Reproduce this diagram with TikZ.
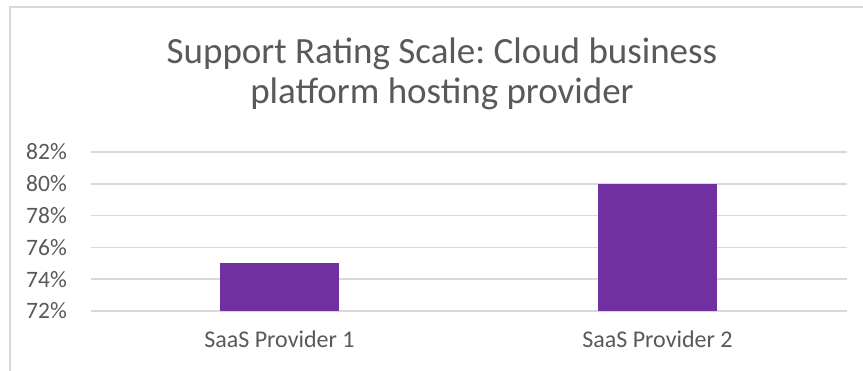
\documentclass[tikz,border=0pt]{standalone}
\usepackage{fontspec}
\setmainfont{Carlito}
\frenchspacing
\definecolor{txtgray}{HTML}{595959}
\definecolor{gridgray}{HTML}{D9D9D9}
\definecolor{barpurple}{HTML}{7030A0}
\tikzset{
  gridline/.style={draw=gridgray, line width=1.6pt},
  framebox/.style={draw=gridgray, line width=1.5pt},
  ylab/.style={anchor=east, text=txtgray, font=\fontsize{23.5}{26}\selectfont, inner sep=0pt},
  xlab/.style={anchor=base, text=txtgray, font=\fontsize{24}{26}\selectfont, inner sep=0pt},
  ttl/.style={anchor=base, text=txtgray, font=\fontsize{37}{40}\selectfont, inner sep=0pt},
  bar/.style={fill=barpurple, draw=none}
}
\begin{document}
\begin{tikzpicture}[x=1pt,y=-1pt]
\useasboundingbox (0,0) rectangle (863,370);
\fill[white] (0,0) rectangle (863,370);
% frame
\draw[framebox] (10,372) -- (10,7) -- (865,7);
% title
\node[ttl] (t1) at (442,63) {Support Rating Scale: Cloud business};
\node[ttl] (t2) at (442,103) {platform hosting provider};
% gridlines and labels
\foreach \v/\n in {72/a,74/b,76/c,78/d,80/e,82/f}{
  \pgfmathsetmacro{\yy}{311-(\v-72)*15.9}
  \coordinate (gl\n) at (91,\yy);
  \coordinate (gr\n) at (847,\yy);
  \draw[gridline] (gl\n) -- (gr\n);
  \node[ylab] (lab\n) at (67,\yy) {\v\%};
}
% bars
\coordinate (b1a) at (220,311);
\coordinate (b1b) at (339,263.3);
\coordinate (b2a) at (598,311);
\coordinate (b2b) at (717,183.8);
\fill[bar] (b1a) rectangle (b1b);
\fill[bar] (b2a) rectangle (b2b);
% category labels
\node[xlab] (c1) at (279.5,347) {SaaS Provider 1};
\node[xlab] (c2) at (657.5,347) {SaaS Provider 2};
\end{tikzpicture}
\end{document}
